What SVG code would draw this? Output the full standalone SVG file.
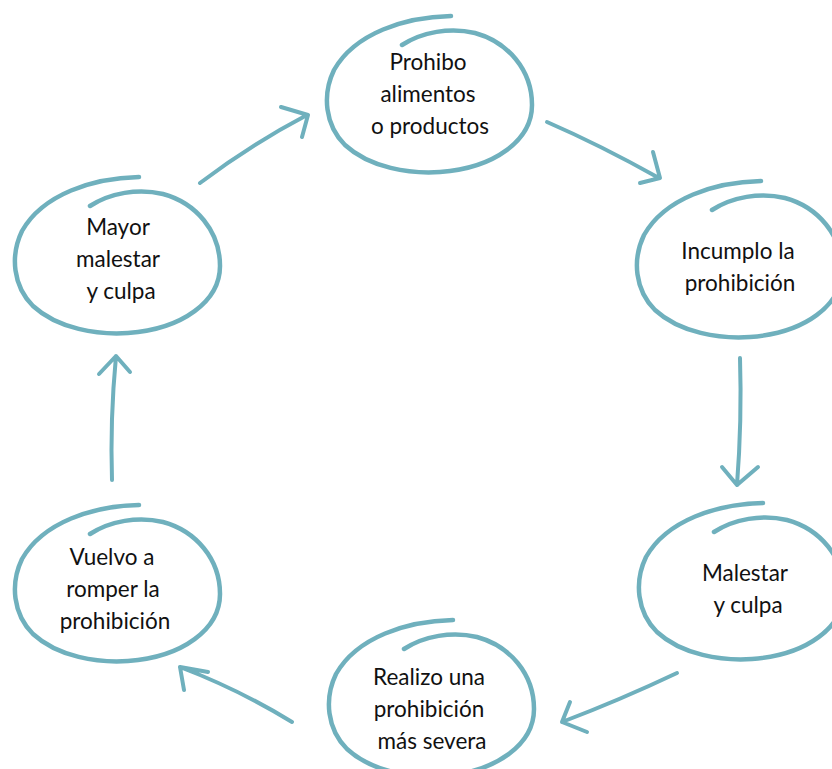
<svg xmlns="http://www.w3.org/2000/svg" xmlns:xlink="http://www.w3.org/1999/xlink" width="832" height="769" viewBox="0 0 832 769">
<style>
.loop{fill:none;stroke:#6fb0bd;stroke-width:4.5;stroke-linecap:round;stroke-linejoin:round}
.arr{fill:none;stroke:#6fb0bd;stroke-width:4;stroke-linecap:round;stroke-linejoin:round}
.t{font-family:Lato,"Liberation Sans",sans-serif;font-size:22.5px;fill:#111;text-anchor:middle}
</style>
<defs>
<path id="loop" d="M451,16 C405,17 355,33 334,70 C322,95 325,125 345,145 C370,168 410,174 440,172 C495,168 532,140 532,105 C532,70 508,42 475,33 C450,27 422,32 402,45"/>
</defs>
<rect width="832" height="769" fill="#ffffff"/>
<g id="connectors">
<path class="arr" d="M200,183 Q250,145 307,115 M281,107 L308,115 L302,137"/>
<path class="arr" d="M547,122 Q600,145 659,178 M653,152 L660,178 L640,183"/>
<path class="arr" d="M740,358 Q742,420 737,485 M722,467 L737,485 L758,467"/>
<path class="arr" d="M677,673 Q620,700 562,722 M570,702 L562,722 L587,732"/>
<path class="arr" d="M292,722 Q240,690 180,667 M184,690 L180,667 L208,672"/>
<path class="arr" d="M112,480 Q110,420 116,356 M99,374 L116,356 L130,372"/>
</g>
<g id="node-prohibo">
<use href="#loop" class="loop"/>
<text class="t" x="428" y="70">Prohibo</text>
<text class="t" x="428" y="102">alimentos</text>
<text class="t" x="430" y="134">o productos</text>
</g>
<g id="node-incumplo">
<use href="#loop" class="loop" transform="translate(310,165)"/>
<text class="t" x="738" y="259">Incumplo la</text>
<text class="t" x="740" y="291">prohibición</text>
</g>
<g id="node-malestar">
<use href="#loop" class="loop" transform="translate(312,487)"/>
<text class="t" x="745" y="581">Malestar</text>
<text class="t" x="748" y="613">y culpa</text>
</g>
<g id="node-realizo">
<use href="#loop" class="loop" transform="translate(2,604)"/>
<text class="t" x="429" y="685">Realizo una</text>
<text class="t" x="429" y="717">prohibición</text>
<text class="t" x="432" y="749">más severa</text>
</g>
<g id="node-vuelvo">
<use href="#loop" class="loop" transform="translate(-312,489)"/>
<text class="t" x="112" y="565">Vuelvo a</text>
<text class="t" x="113" y="597">romper la</text>
<text class="t" x="115" y="629">prohibición</text>
</g>
<g id="node-mayor">
<use href="#loop" class="loop" transform="translate(-312,161)"/>
<text class="t" x="118" y="235">Mayor</text>
<text class="t" x="118" y="267">malestar</text>
<text class="t" x="121" y="299">y culpa</text>
</g>
</svg>
